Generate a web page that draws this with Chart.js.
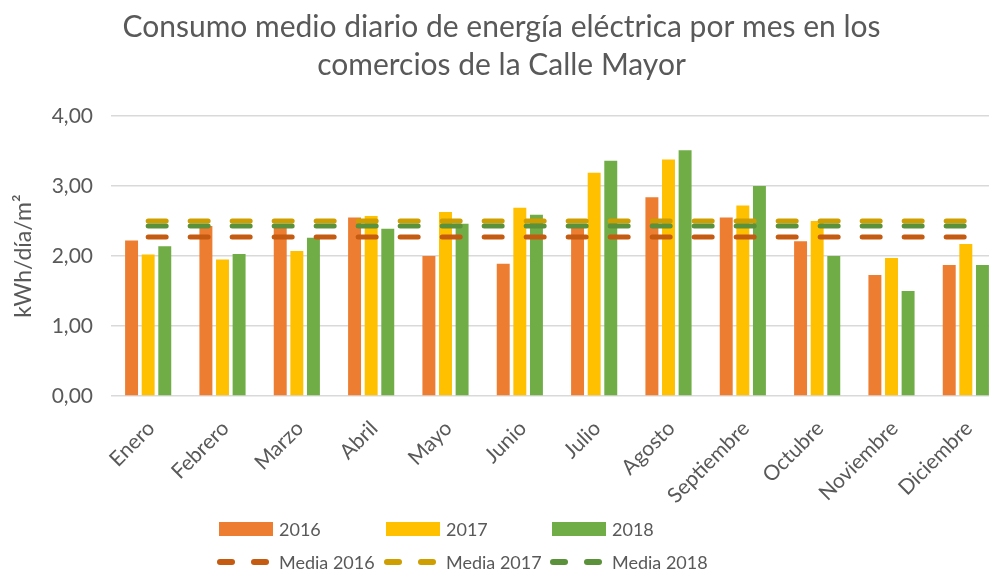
<!DOCTYPE html>
<html>
<head>
<meta charset="utf-8">
<script src="https://cdn.jsdelivr.net/npm/chart.js@4/dist/chart.umd.min.js"></script>
<style>
  html, body { margin:0; padding:0; background:#fff; overflow:hidden; }
  #wrap { position:relative; width:989px; height:572px; overflow:hidden; }
  #chart { position:absolute; left:0; top:0; }
  #legend { position:absolute; left:0; top:0; width:989px; height:572px; pointer-events:none;
            font-family:Lato, "Open Sans", sans-serif; font-size:18px; color:#595959; }
  .item { position:absolute; height:24px; line-height:24px; white-space:nowrap; }
  .box { position:absolute; left:0; top:5px; width:54px; height:14px; }
  .dash { position:absolute; top:9px; width:18px; height:6px; border-radius:3px; }
  .lbl { position:absolute; left:60px; top:0; }
</style>
</head>
<body>
<div id="wrap">
  <!-- the original plot runs a little past the right edge of the picture, so the canvas is wider and cropped -->
  <canvas id="chart" width="1003" height="572"></canvas>
  <div id="legend"></div>
</div>
<script>
const months = ['Enero','Febrero','Marzo','Abril','Mayo','Junio','Julio','Agosto','Septiembre','Octubre','Noviembre','Diciembre'];
const v2016 = [2.22, 2.43, 2.42, 2.55, 2.00, 1.89, 2.43, 2.84, 2.55, 2.21, 1.73, 1.87];
const v2017 = [2.02, 1.95, 2.07, 2.57, 2.63, 2.69, 3.19, 3.38, 2.72, 2.50, 1.97, 2.17];
const v2018 = [2.14, 2.03, 2.26, 2.39, 2.46, 2.59, 3.36, 3.51, 3.00, 2.00, 1.50, 1.87];
const media2016 = [2.27, 2.27, 2.27, 2.27, 2.27, 2.27, 2.27, 2.27, 2.27, 2.27, 2.27, 2.27];
const media2017 = [2.50, 2.50, 2.50, 2.50, 2.50, 2.50, 2.50, 2.50, 2.50, 2.50, 2.50, 2.50];
const media2018 = [2.43, 2.43, 2.43, 2.43, 2.43, 2.43, 2.43, 2.43, 2.43, 2.43, 2.43, 2.43];
const yTicks = [0, 1, 2, 3, 4];

const FONT = 'Lato, "Open Sans", sans-serif';
const GREY = '#595959';

const bar = (label, data, color) => ({
  type:'bar', label, data, backgroundColor:color, order:0,
  categoryPercentage:0.67, barPercentage:0.78
});
// lower order is drawn last, so Media 2018 ends up on top
const mean = (label, data, color, order) => ({
  type:'line', label, data, borderColor:color, backgroundColor:color, order,
  borderWidth:5, borderDash:[18,24], borderCapStyle:'round',
  pointRadius:0, fill:false, tension:0
});

const datasets = [
  bar('2016', v2016, '#ED7D31'),
  bar('2017', v2017, '#FFC000'),
  bar('2018', v2018, '#70AD47'),
  mean('Media 2016', media2016, '#C55A11', -1),
  mean('Media 2017', media2017, '#CF9E00', -2),
  mean('Media 2018', media2018, '#5A913A', -3)
];

new Chart(document.getElementById('chart'), {
  data:{ labels:months, datasets },
  options:{
    responsive:false, animation:false,
    layout:{ padding:{ left:0, right:0, top:0, bottom:58 } },
    plugins:{
      legend:{ display:false },
      tooltip:{ enabled:false },
      title:{
        display:true,
        text:['Consumo medio diario de energía eléctrica por mes en los','comercios de la Calle Mayor'],
        color:GREY, font:{ family:FONT, size:30, weight:'normal', lineHeight:1.25 },
        padding:{ top:9, bottom:32 }
      }
    },
    scales:{
      x:{
        afterFit:(s)=>{ s.height = 118; },
        grid:{ display:false }, border:{ display:false },
        ticks:{ color:GREY, font:{ family:FONT, size:21 }, maxRotation:45, minRotation:45, autoSkip:false, padding:12, labelOffset:3 }
      },
      y:{
        min:0, max:4,
        afterBuildTicks:(s)=>{ s.ticks = yTicks.map(v=>({value:v})); },
        afterFit:(s)=>{ s.width = 111; },
        grid:{ color:'#D9D9D9', lineWidth:1.5, drawTicks:false }, border:{ display:false },
        ticks:{ color:GREY, font:{ family:FONT, size:21 }, padding:18,
                callback:(v)=>v.toFixed(2).replace('.', ',') },
        title:{ display:true, text:'kWh/día/m²', color:GREY, font:{ family:FONT, size:23 }, padding:{ top:10, bottom:0 } }
      }
    }
  }
});

// legend: three columns, two rows, as in the original
const legend = document.getElementById('legend');
const cols = [219, 386, 552];
datasets.forEach((d, i) => {
  const el = document.createElement('div');
  el.className = 'item';
  el.style.left = cols[i % 3] + 'px';
  el.style.top = (i < 3 ? 517 : 550) + 'px';
  if (d.type === 'bar') {
    el.innerHTML = '<span class="box" style="background:' + d.backgroundColor + '"></span>';
  } else {
    el.innerHTML = '<span class="dash" style="left:-2px;background:' + d.borderColor + '"></span>' +
                   '<span class="dash" style="left:32px;background:' + d.borderColor + '"></span>';
  }
  const t = document.createElement('span');
  t.className = 'lbl';
  t.textContent = d.label;
  el.appendChild(t);
  legend.appendChild(el);
});
</script>
</body>
</html>
